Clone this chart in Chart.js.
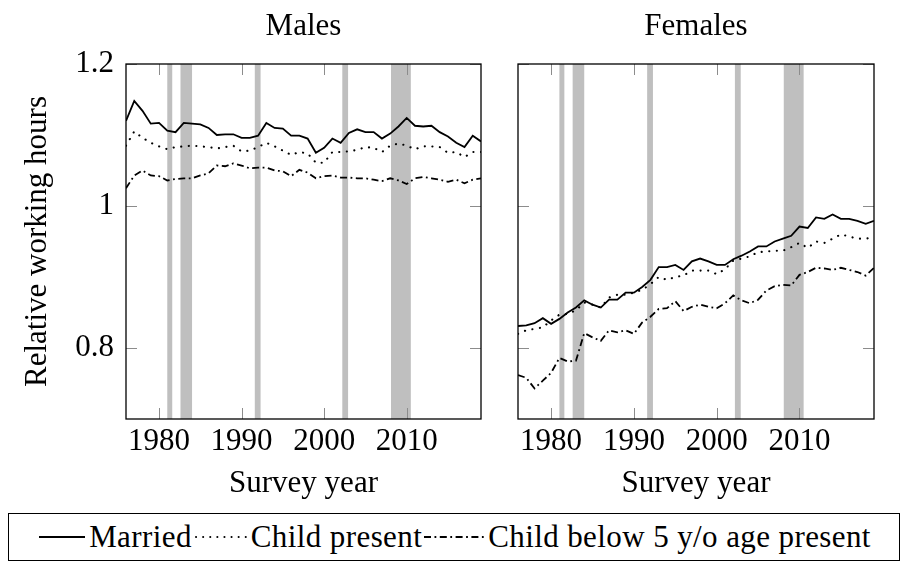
<!DOCTYPE html>
<html>
<head>
<meta charset="utf-8">
<script src="https://cdn.jsdelivr.net/npm/chart.js@4.4.1/dist/chart.umd.min.js"></script>
<style>
  body { margin: 0; background: #fff; width: 904px; height: 565px; position: relative; overflow: hidden; }
  #left { position: absolute; left: 0; top: 0; }
  #right { position: absolute; left: 490px; top: 0; }
  #legend {
    position: absolute; left: 8px; top: 513px; width: 892px; height: 48px;
    box-sizing: border-box; border: 1.3px solid #000;
    display: flex; align-items: center; justify-content: center;
    font-family: "Liberation Serif", serif; font-size: 31px; color: #000;
    letter-spacing: 0.4px;
  }
  #legend svg { margin: 0 4px 0 2px; }
</style>
</head>
<body>
<canvas id="left" width="490" height="510"></canvas>
<canvas id="right" width="414" height="510"></canvas>
<div id="legend">
  <svg width="46" height="12"><line x1="0" y1="6" x2="46" y2="6" stroke="#000" stroke-width="1.8"/></svg>
  <span>Married</span>
  <svg width="53" height="12"><line x1="2" y1="6" x2="53" y2="6" stroke="#000" stroke-width="2" stroke-linecap="round" stroke-dasharray="0.1 7"/></svg>
  <span>Child present</span>
  <svg width="60" height="12"><line x1="0" y1="6" x2="60" y2="6" stroke="#000" stroke-width="1.8" stroke-dasharray="7 3.5 1.8 3.5"/></svg>
  <span>Child below 5 y/o age present</span>
</div>
<script>
const years = [1976, 1977, 1978, 1979, 1980, 1981, 1982, 1983, 1984, 1985,
  1986, 1987, 1988, 1989, 1990, 1991, 1992, 1993, 1994, 1995,
  1996, 1997, 1998, 1999, 2000, 2001, 2002, 2003, 2004, 2005,
  2006, 2007, 2008, 2009, 2010, 2011, 2012, 2013, 2014, 2015,
  2016, 2017, 2018, 2019];

// Males
const malesMarried = [1.120, 1.148, 1.134, 1.116, 1.117, 1.106, 1.104, 1.117, 1.116, 1.115,
  1.110, 1.100, 1.101, 1.101, 1.096, 1.096, 1.099, 1.117, 1.110, 1.109,
  1.099, 1.099, 1.095, 1.075, 1.082, 1.095, 1.089, 1.103, 1.108, 1.104,
  1.104, 1.095, 1.102, 1.112, 1.124, 1.113, 1.112, 1.113, 1.104, 1.098,
  1.089, 1.083, 1.099, 1.091];
const malesChild = [1.085, 1.105, 1.096, 1.089, 1.084, 1.080, 1.083, 1.084, 1.085, 1.084,
  1.083, 1.081, 1.083, 1.085, 1.077, 1.078, 1.083, 1.089, 1.084, 1.078,
  1.072, 1.076, 1.074, 1.061, 1.061, 1.076, 1.076, 1.077, 1.079, 1.083,
  1.082, 1.076, 1.085, 1.088, 1.085, 1.080, 1.084, 1.084, 1.083, 1.075,
  1.076, 1.069, 1.076, 1.076];
const malesYoung = [1.025, 1.043, 1.050, 1.043, 1.042, 1.036, 1.038, 1.039, 1.039, 1.043,
  1.046, 1.057, 1.056, 1.060, 1.057, 1.053, 1.054, 1.054, 1.050, 1.049,
  1.042, 1.051, 1.047, 1.039, 1.042, 1.043, 1.040, 1.040, 1.039, 1.039,
  1.037, 1.035, 1.039, 1.036, 1.031, 1.039, 1.041, 1.039, 1.037, 1.034,
  1.037, 1.032, 1.037, 1.039];

// Females
const femalesMarried = [0.831, 0.832, 0.835, 0.842, 0.834, 0.841, 0.850, 0.857, 0.867, 0.861,
  0.857, 0.868, 0.868, 0.878, 0.878, 0.886, 0.896, 0.914, 0.914, 0.917,
  0.910, 0.922, 0.926, 0.922, 0.917, 0.917, 0.925, 0.930, 0.936, 0.943,
  0.943, 0.950, 0.954, 0.958, 0.971, 0.969, 0.984, 0.982, 0.988, 0.982,
  0.982, 0.979, 0.975, 0.979];
const femalesChild = [0.820, 0.825, 0.827, 0.829, 0.839, 0.847, 0.848, 0.853, 0.864, 0.861,
  0.857, 0.871, 0.875, 0.875, 0.878, 0.882, 0.890, 0.900, 0.896, 0.900,
  0.902, 0.909, 0.909, 0.909, 0.904, 0.911, 0.923, 0.926, 0.929, 0.935,
  0.936, 0.937, 0.937, 0.942, 0.948, 0.941, 0.950, 0.948, 0.954, 0.960,
  0.957, 0.954, 0.954, 0.956];
const femalesYoung = [0.762, 0.758, 0.743, 0.754, 0.765, 0.786, 0.781, 0.782, 0.821, 0.815,
  0.810, 0.825, 0.822, 0.825, 0.820, 0.836, 0.844, 0.855, 0.856, 0.866,
  0.852, 0.858, 0.861, 0.858, 0.856, 0.863, 0.874, 0.867, 0.863, 0.868,
  0.881, 0.887, 0.889, 0.888, 0.903, 0.907, 0.913, 0.912, 0.910, 0.913,
  0.910, 0.907, 0.902, 0.913];

// recession shading (survey years)
const recessionStart = [1981.0, 1982.6, 1991.6, 2002.2, 2008.1];
const recessionEnd = [1981.6, 1984.0, 1992.3, 2002.9, 2010.5];

const xTicks = [1980, 1990, 2000, 2010];
const yTicks = [0.8, 1, 1.2];

const font = { family: '"Liberation Serif", serif', size: 31, lineHeight: 1.2 };

// grey bars behind the lines, inward ticks and a box around the plot
const framePlugin = {
  id: 'frame',
  beforeDatasetsDraw(chart) {
    const { ctx, chartArea: a, scales: { x } } = chart;
    ctx.save();
    ctx.fillStyle = '#bfbfbf';
    recessionStart.forEach((s, i) => {
      const x0 = x.getPixelForValue(s);
      const x1 = x.getPixelForValue(recessionEnd[i]);
      ctx.fillRect(x0, a.top, x1 - x0, a.bottom - a.top);
    });
    ctx.restore();
  },
  afterDatasetsDraw(chart) {
    const { ctx, chartArea: a, scales: { x, y } } = chart;
    ctx.save();
    ctx.strokeStyle = '#8c8c8c';
    ctx.lineWidth = 1;
    ctx.beginPath();
    xTicks.forEach(v => {
      const p = Math.round(x.getPixelForValue(v)) + 0.5;
      ctx.moveTo(p, a.bottom); ctx.lineTo(p, a.bottom - 11);
      ctx.moveTo(p, a.top); ctx.lineTo(p, a.top + 11);
    });
    yTicks.forEach(v => {
      const p = Math.round(y.getPixelForValue(v)) + 0.5;
      ctx.moveTo(a.left, p); ctx.lineTo(a.left + 11, p);
      ctx.moveTo(a.right, p); ctx.lineTo(a.right - 11, p);
    });
    ctx.stroke();
    ctx.strokeStyle = '#000';
    ctx.lineWidth = 1.3;
    ctx.strokeRect(a.left, a.top, a.right - a.left, a.bottom - a.top);
    ctx.restore();
  }
};

function points(vals) {
  return years.map((yr, i) => ({ x: yr, y: vals[i] }));
}

function makePanel(id, title, married, child, young, showY, rightPad) {
  new Chart(document.getElementById(id), {
    type: 'line',
    data: {
      datasets: [
        { label: 'Married', data: points(married), borderColor: '#000', borderWidth: 1.8 },
        { label: 'Child present', data: points(child), borderColor: '#000', borderWidth: 2.1,
          borderDash: [0.1, 7.5], borderCapStyle: 'round' },
        { label: 'Child below 5 y/o age present', data: points(young), borderColor: '#000', borderWidth: 1.8,
          borderDash: [7, 3.5, 1.8, 3.5] }
      ]
    },
    options: {
      responsive: false,
      animation: false,
      layout: { padding: { left: 0, top: 0, bottom: 0, right: rightPad } },
      elements: { point: { radius: 0 }, line: { tension: 0 } },
      plugins: { legend: { display: false }, tooltip: { enabled: false } },
      scales: {
        x: {
          type: 'linear', position: 'bottom', min: 1976, max: 2019,
          grid: { display: false, drawTicks: false }, border: { display: false },
          afterBuildTicks: s => { s.ticks = xTicks.map(v => ({ value: v })); },
          ticks: { font, color: '#000', padding: 4, maxRotation: 0, autoSkip: false, callback: v => String(v) },
          title: { display: true, text: 'Survey year', font, color: '#000', padding: { top: 0, bottom: 8 } },
          afterFit: s => { s.height = 91; }
        },
        top: {
          type: 'linear', position: 'top', min: 1976, max: 2019,
          grid: { display: false, drawTicks: false }, border: { display: false },
          ticks: { display: false },
          title: { display: true, text: title, font, color: '#000', padding: { top: 8, bottom: 0 } },
          afterFit: s => { s.height = 64; }
        },
        y: {
          type: 'linear', position: 'left', min: 0.7, max: 1.2,
          grid: { display: false, drawTicks: false }, border: { display: false },
          afterBuildTicks: s => { s.ticks = yTicks.map(v => ({ value: v })); },
          ticks: { display: showY, font, color: '#000', padding: 12, callback: v => String(v) },
          title: { display: showY, text: 'Relative working hours', font, color: '#000', padding: { top: 19, bottom: 0 } },
          afterFit: s => { s.width = showY ? 126 : 28; }
        }
      }
    },
    plugins: [framePlugin]
  });
}

makePanel('left', 'Males', malesMarried, malesChild, malesYoung, true, 9);
makePanel('right', 'Females', femalesMarried, femalesChild, femalesYoung, false, 30);
</script>
</body>
</html>
